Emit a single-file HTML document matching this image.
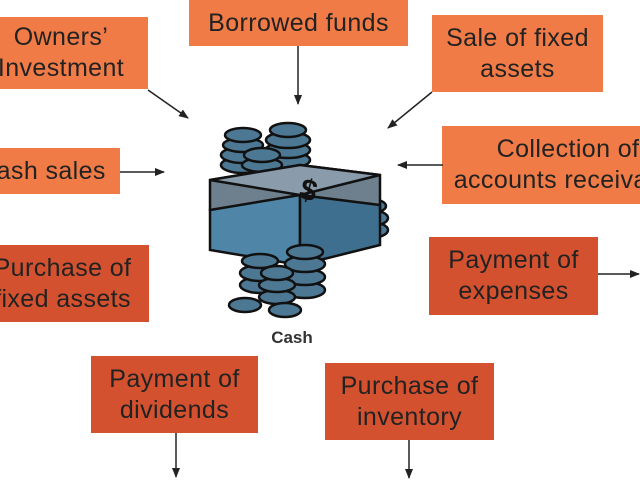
<!DOCTYPE html>
<html><head><meta charset="utf-8"><style>
html,body{margin:0;padding:0;width:640px;height:480px;overflow:hidden;background:#fff;position:relative;font-family:"Liberation Sans",sans-serif}
.b{position:absolute;display:flex;align-items:center;justify-content:center;text-align:center;font-size:25px;letter-spacing:0.4px;line-height:31px;color:#222;white-space:nowrap}
.l{background:#f07b46}
.d{background:#d4512f}
.bg{position:absolute;overflow:hidden}
</style></head><body>
<div class="bg l" style="left:0;top:17px;width:148px;height:72px"><div class="b" style="left:-26px;top:0;width:174px;height:72px">Owners’<br>Investment</div></div>
<div class="b l" style="left:189px;top:0;width:219px;height:46px">Borrowed funds</div>
<div class="b l" style="left:432px;top:15px;width:171px;height:77px">Sale of fixed<br>assets</div>
<div class="bg l" style="left:442px;top:126px;width:198px;height:78px"><div class="b" style="left:6px;top:0;width:240px;height:78px">Collection of<br>accounts receivable</div></div>
<div class="bg l" style="left:0;top:148px;width:120px;height:46px"><div class="b" style="left:-36px;top:0;width:156px;height:46px">Cash sales</div></div>
<div class="bg d" style="left:0;top:245px;width:149px;height:77px"><div class="b" style="left:-24px;top:0;width:173px;height:77px">Purchase of<br>fixed assets</div></div>
<div class="b d" style="left:429px;top:237px;width:169px;height:78px">Payment of<br>expenses</div>
<div class="b d" style="left:91px;top:356px;width:167px;height:77px">Payment of<br>dividends</div>
<div class="b d" style="left:325px;top:363px;width:169px;height:77px">Purchase of<br>inventory</div>

<svg style="position:absolute;left:0;top:0" width="640" height="480">
<defs><marker id="a" markerWidth="10" markerHeight="8" refX="9" refY="4" orient="auto" markerUnits="userSpaceOnUse"><path d="M0,0L10,4L0,8z" fill="#222"/></marker></defs>
<g stroke="#222" stroke-width="1.5" marker-end="url(#a)">
<line x1="148" y1="90" x2="188" y2="118"/>
<line x1="298" y1="46" x2="298" y2="104"/>
<line x1="432" y1="92" x2="388" y2="128"/>
<line x1="443" y1="165" x2="398" y2="165"/>
<line x1="120" y1="172" x2="164" y2="172"/>
<line x1="598" y1="274" x2="639" y2="274"/>
<line x1="176" y1="433" x2="176" y2="477"/>
<line x1="409" y1="440" x2="409" y2="478"/>
</g>
<g stroke="#111" stroke-width="2.5">
<g fill="#4d7894">
<ellipse cx="243" cy="165" rx="22" ry="8"/><ellipse cx="243" cy="155" rx="22" ry="8"/><ellipse cx="243" cy="145" rx="20" ry="7"/><ellipse cx="243" cy="135" rx="18" ry="7"/>
<ellipse cx="288" cy="160" rx="22" ry="8"/><ellipse cx="288" cy="150" rx="22" ry="8"/><ellipse cx="288" cy="140" rx="22" ry="8"/><ellipse cx="288" cy="130" rx="18" ry="7"/>
<ellipse cx="262" cy="165" rx="20" ry="7"/><ellipse cx="262" cy="155" rx="18" ry="7"/>
<ellipse cx="370" cy="230" rx="18" ry="8"/><ellipse cx="370" cy="218" rx="18" ry="8"/><ellipse cx="370" cy="206" rx="16" ry="7"/>
</g>
<polygon points="210,180 300,165 380,175 380,210 300,225 210,210" fill="#6e7f8e"/>
<polygon points="210,210 300,195 300,265 210,250" fill="#4f86a8"/>
<polygon points="300,195 380,205 380,245 300,265" fill="#3f6f8f"/>
<polygon points="210,180 300,165 380,175 300,195" fill="#8a9cab"/>
<text x="300" y="198" font-size="30" font-weight="bold" fill="#111" stroke="none" font-family="Liberation Sans,sans-serif" transform="rotate(15 300 190)">$</text>
<g fill="#4d7894">
<ellipse cx="260" cy="285" rx="20" ry="8"/><ellipse cx="260" cy="273" rx="20" ry="8"/><ellipse cx="260" cy="261" rx="18" ry="7"/>
<ellipse cx="305" cy="290" rx="20" ry="8"/><ellipse cx="305" cy="277" rx="20" ry="8"/><ellipse cx="305" cy="264" rx="20" ry="8"/><ellipse cx="305" cy="252" rx="18" ry="7"/>
<ellipse cx="277" cy="297" rx="18" ry="7"/><ellipse cx="277" cy="285" rx="18" ry="7"/><ellipse cx="277" cy="273" rx="16" ry="7"/>
<ellipse cx="245" cy="305" rx="16" ry="7"/><ellipse cx="285" cy="310" rx="16" ry="7"/>
</g>
</g>
<text x="292" y="343" font-size="17" font-weight="bold" fill="#333" text-anchor="middle" font-family="Liberation Sans,sans-serif">Cash</text>
</svg>
</body></html>
